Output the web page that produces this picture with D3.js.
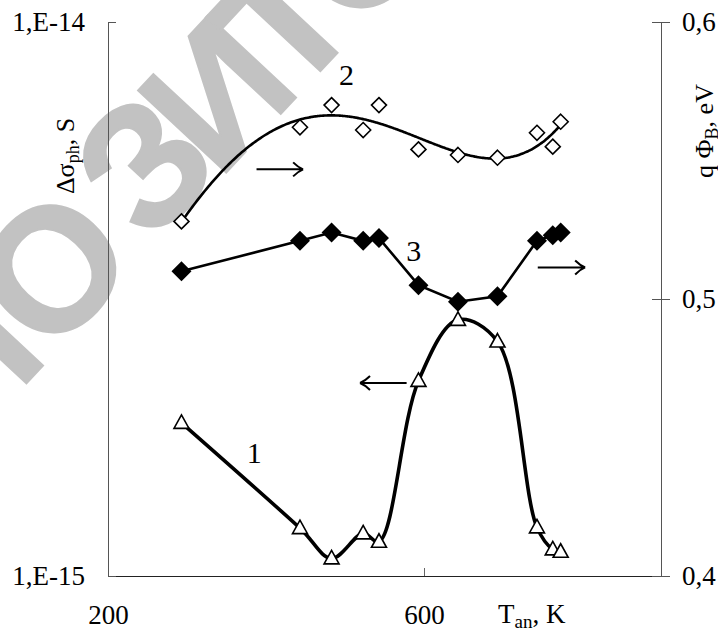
<!DOCTYPE html>
<meta charset="utf-8">
<head>
    <script type="text/javascript" src="https://cdn.jsdelivr.net/npm/d3@7/dist/d3.min.js"></script>
    <style>
        body { margin: 0; background: #fff; }
        text { font-family: "Liberation Serif", "Times New Roman", serif; fill: #000; }
        .wm { font-family: "Liberation Sans", Arial, sans-serif; font-weight: bold; fill: #c2c2c2; stroke: #c2c2c2; stroke-width: 2; }
    </style>
    <title>Photoconductivity and barrier height vs annealing temperature</title>
</head>
<body>
<script>

    // annealing temperature, K
    var tan = [293, 443, 483, 523, 543, 593, 643, 693, 743, 763, 773];
    // curve 1: photoconductivity, S (left, log axis)
    var sigma1 = [1.89e-15, 1.22e-15, 1.076e-15, 1.194e-15, 1.153e-15, 2.25e-15, 2.9e-15, 2.65e-15, 1.224e-15, 1.117e-15, 1.106e-15];
    // curve 2: barrier height, eV (right axis), open diamonds + trend
    var phi2 = [0.528, 0.562, 0.570, 0.561, 0.570, 0.554, 0.552, 0.551, 0.560, 0.555, 0.564];
    // curve 3: barrier height, eV (right axis), filled diamonds
    var phi3 = [0.510, 0.521, 0.524, 0.521, 0.522, 0.505, 0.499, 0.501, 0.521, 0.523, 0.524];

    var xTicks = [200, 600];
    var leftTicks = [1e-15, 1e-14];
    var leftTickLabels = ["1,E-15", "1,E-14"];
    var rightTicks = [0.4, 0.5, 0.6];

    // annotations in data units: [T tail, T tip, value, axis]
    var arrows = [[388, 447, 0.5468, "right"], [578, 519, 2.23e-15, "left"], [744, 804, 0.5114, "right"]];
    var curveLabels = [["1", 385, 1.6e-15, "left"], ["2", 502, 0.5773, "right"], ["3", 587, 0.5138, "right"]];

    // watermark letters (page decoration, not data)
    var wmLetters = ["П", "О", "З", "И", "Т", "О"];
    var wmCenters = [[-38, 360], [50, 267], [142, 163], [215, 92], [283, 19], [357, -58]];

    var margin = {top: 22, right: 57, bottom: 53, left: 108};
    var W = 718, H = 629;
    var width = W - margin.left - margin.right;
    var height = H - margin.top - margin.bottom;

    var svg = d3.select("body").append("svg")
        .attr("width", W)
        .attr("height", H);

    // watermark behind the chart
    svg.append("g").selectAll("text").data(wmLetters).enter().append("text")
        .attr("class", "wm")
        .attr("transform", (d, i) => "translate(" + wmCenters[i][0] + "," + wmCenters[i][1] + ") rotate(-47)")
        .attr("text-anchor", "middle").attr("dy", "0.36em")
        .attr("font-size", 175)
        .text(d => d);

    var g = svg.append("g").attr("transform", "translate(" + margin.left + "," + margin.top + ")");

    var x = d3.scaleLinear().domain([200, 900]).range([0, width]);
    var yL = d3.scaleLog().domain([1e-15, 1e-14]).range([height, 0]);
    var yR = d3.scaleLinear().domain([0.4, 0.6]).range([height, 0]);

    // axes
    var xAxis = g.append("g").attr("transform", "translate(0," + height + ")")
        .call(d3.axisBottom(x).tickValues(xTicks).tickSizeInner(-8).tickSizeOuter(0).tickPadding(29));
    xAxis.select(".domain").attr("stroke", "#222");
    xAxis.selectAll("line").attr("stroke", "#666");
    xAxis.selectAll(".tick").filter(d => d === 200).select("line").remove();

    var lAxis = g.append("g")
        .call(d3.axisLeft(yL).tickValues(leftTicks).tickSizeInner(-8).tickSizeOuter(0).tickPadding(23)
            .tickFormat((d, i) => leftTickLabels[i]));
    lAxis.select(".domain").attr("stroke", "#555");
    lAxis.selectAll("line").attr("stroke", "#555");

    var rAxis = g.append("g").attr("transform", "translate(" + width + ",0)")
        .call(d3.axisRight(yR).tickValues(rightTicks).tickSizeInner(9).tickSizeOuter(0).tickPadding(12)
            .tickFormat(d => d3.format(".1f")(d).replace(".", ",")));
    rAxis.select(".domain").attr("stroke", "#555");
    rAxis.selectAll("line").attr("x1", -9).attr("stroke", "#555");

    svg.selectAll(".tick text").attr("font-family", "Liberation Serif").attr("font-size", 27).attr("fill", "#000");

    // axis titles
    var tx = svg.append("text").attr("x", 498).attr("y", 623).attr("font-size", 27);
    tx.append("tspan").text("T");
    tx.append("tspan").attr("font-size", 19).attr("dy", 5).text("an");
    tx.append("tspan").attr("dy", -5).text(", K");

    var tl = svg.append("text").attr("transform", "translate(74,156) rotate(-90)")
        .attr("text-anchor", "middle").attr("font-size", 26);
    tl.append("tspan").text("Δσ");
    tl.append("tspan").attr("font-size", 18).attr("dy", 5).text("ph");
    tl.append("tspan").attr("dy", -5).text(", S");

    var tr = svg.append("text").attr("transform", "translate(713,131) rotate(-90)")
        .attr("text-anchor", "middle").attr("font-size", 26);
    tr.append("tspan").text("q Φ");
    tr.append("tspan").attr("font-size", 18).attr("dy", 5).text("B");
    tr.append("tspan").attr("dy", -5).text(", eV");

    var rows = tan.map((t, i) => ({t: t, s1: sigma1[i], p2: phi2[i], p3: phi3[i]}));

    // least squares polynomial trend for curve 2
    function polyfit(xs, ys, order) {
        var n = order + 1;
        var A = [], b = [];
        for (var r = 0; r < n; r++) { A.push(new Array(n).fill(0)); b.push(0); }
        xs.forEach(function (xv, k) {
            var u = (xv - 600) / 200;
            for (var r = 0; r < n; r++) {
                b[r] += ys[k] * Math.pow(u, r);
                for (var c = 0; c < n; c++) A[r][c] += Math.pow(u, r + c);
            }
        });
        for (var p = 0; p < n; p++) {
            var m = p;
            for (var r = p + 1; r < n; r++) if (Math.abs(A[r][p]) > Math.abs(A[m][p])) m = r;
            [A[p], A[m]] = [A[m], A[p]]; [b[p], b[m]] = [b[m], b[p]];
            for (var r = p + 1; r < n; r++) {
                var f = A[r][p] / A[p][p];
                for (var c = p; c < n; c++) A[r][c] -= f * A[p][c];
                b[r] -= f * b[p];
            }
        }
        var coef = new Array(n).fill(0);
        for (var r = n - 1; r >= 0; r--) {
            var s = b[r];
            for (var c = r + 1; c < n; c++) s -= A[r][c] * coef[c];
            coef[r] = s / A[r][r];
        }
        return function (xv) {
            var u = (xv - 600) / 200;
            return coef.reduce((acc, cc, i) => acc + cc * Math.pow(u, i), 0);
        };
    }
    var trend = polyfit(tan, phi2, 4);
    var trendPts = d3.range(tan[0], tan[tan.length - 1] + 0.1, 2).map(t => [t, trend(t)]);

    // curve 2 trend line
    g.append("path").datum(trendPts)
        .attr("fill", "none").attr("stroke", "#000").attr("stroke-width", 2.6)
        .attr("d", d3.line().x(d => x(d[0])).y(d => yR(d[1])).curve(d3.curveBasis));

    // curve 3 line
    g.append("path").datum(rows)
        .attr("fill", "none").attr("stroke", "#000").attr("stroke-width", 2.6)
        .attr("d", d3.line().x(d => x(d.t)).y(d => yR(d.p3)));

    // curve 1 smoothed line
    g.append("path").datum(rows)
        .attr("fill", "none").attr("stroke", "#000").attr("stroke-width", 3.6)
        .attr("d", d3.line().x(d => x(d.t)).y(d => yL(d.s1)).curve(d3.curveCatmullRom.alpha(0.5)));

    // markers
    g.selectAll(".m2").data(rows).enter().append("path")
        .attr("transform", d => "translate(" + x(d.t) + "," + yR(d.p2) + ")")
        .attr("d", "M0,-7.5L7.5,0L0,7.5L-7.5,0Z")
        .attr("fill", "#fff").attr("stroke", "#000").attr("stroke-width", 1.6);

    g.selectAll(".m3").data(rows).enter().append("path")
        .attr("transform", d => "translate(" + x(d.t) + "," + yR(d.p3) + ")")
        .attr("d", "M0,-10L10,0L0,10L-10,0Z")
        .attr("fill", "#000");

    g.selectAll(".m1").data(rows).enter().append("path")
        .attr("transform", d => "translate(" + x(d.t) + "," + yL(d.s1) + ")")
        .attr("d", "M0,-8L7.5,5.5L-7.5,5.5Z")
        .attr("fill", "#fff").attr("stroke", "#000").attr("stroke-width", 1.6);

    // curve numbers
    g.selectAll(".lab").data(curveLabels).enter().append("text")
        .attr("x", d => x(d[1]))
        .attr("y", d => d[3] === "left" ? yL(d[2]) : yR(d[2]))
        .attr("text-anchor", "middle").attr("font-size", 30)
        .text(d => d[0]);

    // arrows pointing to the axis each curve uses
    arrows.forEach(function (a) {
        var x0 = x(a[0]), x1 = x(a[1]), yy = a[3] === "left" ? yL(a[2]) : yR(a[2]);
        var dir = x1 > x0 ? 1 : -1;
        g.append("path")
            .attr("d", "M" + x0 + "," + yy + "H" + x1
                + "M" + x1 + "," + yy + "Q" + (x1 - dir * 5) + "," + (yy - 2) + " " + (x1 - dir * 10) + "," + (yy - 7)
                + "M" + x1 + "," + yy + "Q" + (x1 - dir * 5) + "," + (yy + 2) + " " + (x1 - dir * 10) + "," + (yy + 7))
            .attr("fill", "none").attr("stroke", "#000").attr("stroke-width", 2);
    });

</script>
</body>
